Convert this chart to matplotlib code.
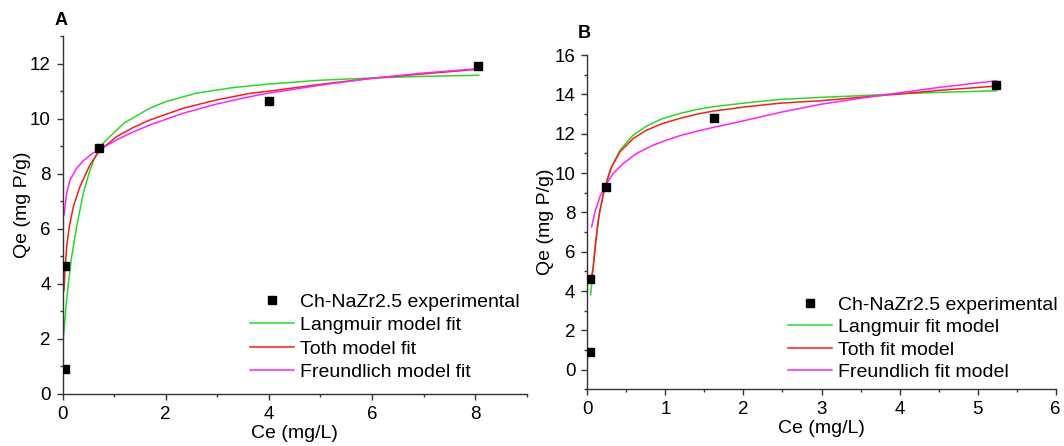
import matplotlib
matplotlib.use("Agg")
import matplotlib.pyplot as plt
from matplotlib.ticker import MultipleLocator

plt.rcParams['font.family'] = ['Liberation Sans', 'DejaVu Sans']

# panel A - experimental points
ce_a = [0.04, 0.05, 0.71, 4.0, 8.05]
qe_a = [0.9, 4.64, 8.92, 10.65, 11.92]

# panel A - fit curves
lang_a_x = [0.016, 0.068, 0.113, 0.177, 0.274, 0.403, 0.532, 0.63, 0.725, 0.9, 1.2, 1.69, 2.0,
            2.6, 3.3, 4.0, 5.0, 6.0, 7.0, 8.07]
lang_a_y = [2.01, 3.17, 4.01, 4.98, 6.07, 7.29, 8.13, 8.6, 8.98, 9.32, 9.85, 10.38, 10.62,
            10.93, 11.13, 11.26, 11.4, 11.48, 11.54, 11.58]
toth_a_x = [0.029, 0.048, 0.081, 0.132, 0.21, 0.338, 0.532, 0.725, 0.9, 1.048, 1.37, 1.69,
            2.34, 2.98, 3.63, 4.0, 5.0, 6.0, 7.0, 8.07]
toth_a_y = [3.75, 4.5, 5.35, 6.07, 6.8, 7.53, 8.32, 8.86, 9.12, 9.35, 9.68, 9.95,
            10.38, 10.68, 10.92, 11.0, 11.25, 11.47, 11.63, 11.8]
freu_a_x = [0.029, 0.081, 0.145, 0.274, 0.403, 0.597, 0.725, 0.9, 1.048, 1.37, 1.69, 2.34,
            2.98, 3.63, 4.0, 5.0, 6.0, 7.0, 8.07]
freu_a_y = [6.5, 7.29, 7.77, 8.2, 8.47, 8.76, 8.88, 9.07, 9.23, 9.52, 9.77, 10.2,
            10.53, 10.8, 10.93, 11.22, 11.47, 11.66, 11.82]

# panel B - experimental points
ce_b = [0.04, 0.04, 0.24, 1.62, 5.24]
qe_b = [0.88, 4.6, 9.27, 12.81, 14.5]

# panel B - fit curves
lang_b_x = [0.043, 0.069, 0.099, 0.141, 0.205, 0.29, 0.419, 0.589, 0.76, 0.95, 1.187, 1.4,
            1.614, 2.04, 2.467, 3.0, 3.5, 4.0, 4.5, 5.24]
lang_b_y = [3.81, 4.91, 6.26, 7.61, 8.97, 10.15, 11.17, 11.93, 12.39, 12.75, 13.03, 13.23,
            13.37, 13.57, 13.74, 13.85, 13.93, 14.03, 14.1, 14.18]
toth_b_x = [0.04, 0.077, 0.111, 0.154, 0.227, 0.312, 0.419, 0.589, 0.76, 0.95, 1.187, 1.4,
            1.614, 2.04, 2.467, 3.0, 3.5, 4.0, 4.5, 5.24]
toth_b_y = [4.4, 5.24, 6.6, 7.95, 9.3, 10.32, 11.08, 11.76, 12.18, 12.5, 12.78, 12.99,
            13.15, 13.37, 13.55, 13.68, 13.85, 14.02, 14.2, 14.42]
freu_b_x = [0.056, 0.099, 0.163, 0.248, 0.333, 0.461, 0.632, 0.846, 1.0, 1.187, 1.4, 1.614,
            2.04, 2.467, 3.0, 3.5, 4.0, 4.5, 5.24]
freu_b_y = [7.27, 8.04, 8.8, 9.48, 9.98, 10.49, 11.0, 11.42, 11.65, 11.9, 12.12, 12.32,
            12.69, 13.08, 13.5, 13.8, 14.08, 14.35, 14.69]

labels_a = ["Ch-NaZr2.5 experimental", "Langmuir model fit", "Toth model fit", "Freundlich model fit"]
labels_b = ["Ch-NaZr2.5 experimental", "Langmuir fit model", "Toth fit model", "Freundlich fit model"]

green = '#22dd22'
red = '#ff1a1a'
magenta = '#ff22ff'

W, H = 1064, 446
fig = plt.figure(figsize=(W/100, H/100), dpi=100)
ax1 = fig.add_axes([62.5/W, 1-393.7/H, 464.2/W, 357.5/H])
ax2 = fig.add_axes([587.3/W, 1-389.4/H, 468.4/W, 334.4/H])


def draw(ax, ce, qe, lx, ly, tx, ty, fx, fy, labels):
    pts, = ax.plot(ce, qe, 's', color='black', markersize=5.8, zorder=5, label=labels[0])
    l1, = ax.plot(lx, ly, color=green, lw=1.1, label=labels[1])
    l2, = ax.plot(tx, ty, color=red, lw=1.1, label=labels[2])
    l3, = ax.plot(fx, fy, color=magenta, lw=1.1, label=labels[3])
    for s in ['top', 'right']:
        ax.spines[s].set_visible(False)
    for s in ['left', 'bottom']:
        ax.spines[s].set_linewidth(1.0)
        ax.spines[s].set_color('#333333')
    ax.tick_params(which='major', direction='out', length=4, width=1.0, labelsize=13.5, pad=4.5, color='#333333')
    ax.tick_params(which='minor', direction='out', length=2, width=1.0, color='#333333')
    ax.set_xlabel("Ce (mg/L)", fontsize=14)
    ax.set_ylabel("Qe (mg P/g)", fontsize=14)
    return [pts, l1, l2, l3]


h1 = draw(ax1, ce_a, qe_a, lang_a_x, lang_a_y, toth_a_x, toth_a_y, freu_a_x, freu_a_y, labels_a)
ax1.set_xlim(0, 9)
ax1.set_ylim(0, 13)
ax1.xaxis.set_major_locator(MultipleLocator(2))
ax1.xaxis.set_minor_locator(MultipleLocator(1))
ax1.yaxis.set_major_locator(MultipleLocator(2))
ax1.yaxis.set_minor_locator(MultipleLocator(1))
ax1.xaxis.set_label_coords(0.5, -0.087)
ax1.yaxis.set_label_coords(-0.0685, 0.528)

h2 = draw(ax2, ce_b, qe_b, lang_b_x, lang_b_y, toth_b_x, toth_b_y, freu_b_x, freu_b_y, labels_b)
ax2.set_xlim(0, 6)
ax2.set_ylim(-1, 16)
ax2.xaxis.set_major_locator(MultipleLocator(1))
ax2.xaxis.set_minor_locator(MultipleLocator(0.5))
ax2.yaxis.set_major_locator(MultipleLocator(2))
ax2.yaxis.set_minor_locator(MultipleLocator(1))
ax2.xaxis.set_label_coords(0.5, -0.092)
ax2.yaxis.set_label_coords(-0.072, 0.5)

ax1.legend(handles=h1, loc='upper left', bbox_to_anchor=(250/W, 1-293/H), bbox_transform=fig.transFigure,
           frameon=False, fontsize=14, borderpad=0, borderaxespad=0, handlelength=2.25,
           handletextpad=0.3, labelspacing=0.3)
ax2.legend(handles=h2, loc='upper left', bbox_to_anchor=(788/W, 1-296/H), bbox_transform=fig.transFigure,
           frameon=False, fontsize=14, borderpad=0, borderaxespad=0, handlelength=2.25,
           handletextpad=0.3, labelspacing=0.25)

fig.text(55/W, 1-20.7/H, "A", fontsize=13, fontweight='bold', va='center', ha='left')
fig.text(577.7/W, 1-34/H, "B", fontsize=13, fontweight='bold', va='center', ha='left')

fig.savefig("out.png", dpi=100)
